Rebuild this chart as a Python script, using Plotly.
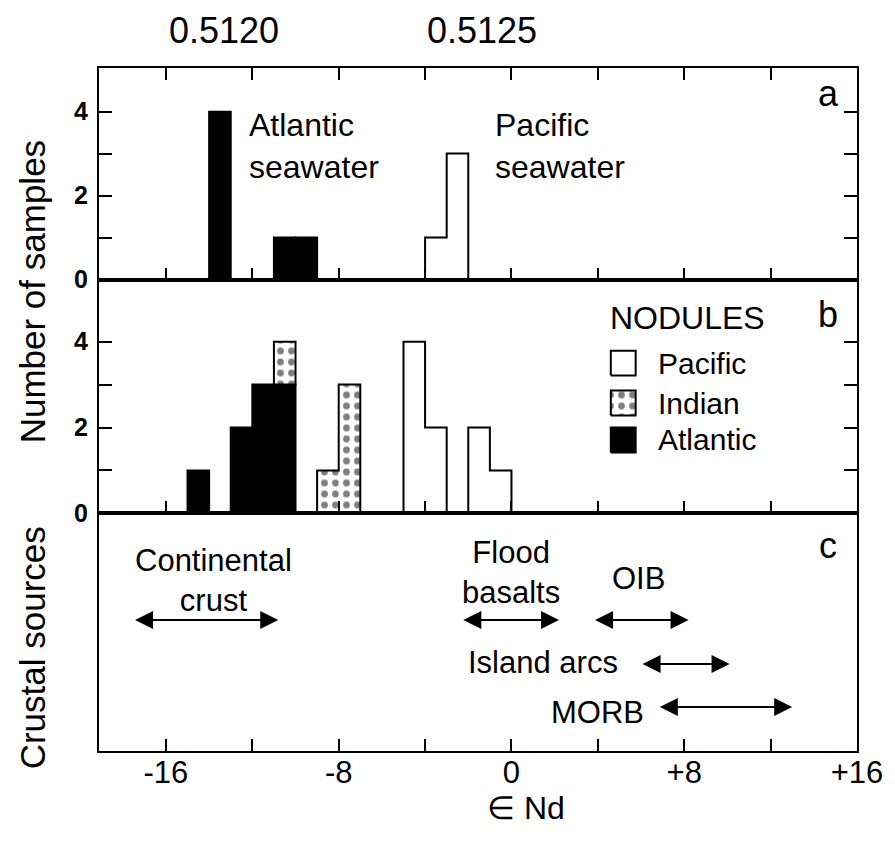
import plotly.graph_objects as go

# ---------------- data ----------------
bin_width = 1.0

# Panel a: seawater
sw_atl_left = [-14, -11, -10]
sw_atl_n = [4, 1, 1]
sw_pac_left = [-4, -3]
sw_pac_n = [1, 3]

# Panel b: nodules
nod_atl_left = [-15, -13, -12, -11]
nod_atl_n = [1, 2, 3, 3]
nod_ind_left = [-11, -9, -8]
nod_ind_n = [1, 1, 3]
nod_pac_left = [-5, -4, -2, -1]
nod_pac_n = [4, 2, 2, 1]

# Panel c: crustal sources (eNd ranges)
src_names = ["Continental<br>crust", "Flood<br>basalts", "OIB", "Island arcs", "MORB"]
src_lo = [-17.5, -2.3, 3.8, 6.0, 6.8]
src_hi = [-10.8, 2.2, 8.2, 10.1, 13.0]

# top ratio labels (143Nd/144Nd)
ratio_text = ["0.5120", "0.5125"]
ratio_eps = [-13.3, -1.35]

legend_names = ["Pacific", "Indian", "Atlantic"]

x_tickvals = [-16, -12, -8, -4, 0, 4, 8, 12, 16]
x_ticktext = ["-16", "", "-8", "", "0", "", "+8", "", "+16"]
y_tickvals = [0, 1, 2, 3, 4]
y_ticktext = ["0", "", "2", "", "4"]

# ---------------- layout constants ----------------
W, H = 895, 841
L, R, T, B = 99, 34, 68, 90
PW, PH = W - L - R, H - T - B
FONT = "Liberation Sans, Arial, sans-serif"

def pxx(px):
    return (px - L) / PW

def pxy(py):
    return (H - B - py) / PH

# panel boundaries (pixels from top)
ya_top, ab, bc, c_bot = 68, 279.5, 513.3, 751
dom_a = [pxy(ab), 1.0]
dom_b = [pxy(bc), pxy(ab)]
dom_c = [0.0, pxy(bc)]

XR = [-19.1, 16.0]
c_h = c_bot - bc  # panel c height in px, used as its y-scale

fig = go.Figure()


def bar_trace(lefts, counts, xa, ya, color, base=None, pattern=None, line=True):
    m = dict(color=color, line=dict(color="black", width=2 if line else 0))
    if pattern:
        m["pattern"] = pattern
    return go.Bar(
        x=[l + bin_width / 2 for l in lefts], y=counts, width=bin_width,
        base=base, marker=m, xaxis=xa, yaxis=ya, showlegend=False,
        hoverinfo="skip",
    )


def outline(lefts, counts, bases=None):
    """Step outline of contiguous histogram runs."""
    if bases is None:
        bases = [0] * len(lefts)
    xs, ys = [], []
    i = 0
    n = len(lefts)
    while i < n:
        run = [i]
        while run[-1] + 1 < n and abs(lefts[run[-1] + 1] - (lefts[run[-1]] + bin_width)) < 1e-9:
            run.append(run[-1] + 1)
        px_, py_ = [lefts[run[0]]], [bases[run[0]]]
        for k in run:
            px_ += [lefts[k], lefts[k] + bin_width]
            py_ += [bases[k] + counts[k], bases[k] + counts[k]]
        px_.append(lefts[run[-1]] + bin_width)
        py_.append(bases[run[-1]])
        for k in reversed(run):
            px_ += [lefts[k] + bin_width, lefts[k]]
            py_ += [bases[k], bases[k]]
        xs += px_ + [None]
        ys += py_ + [None]
        i = run[-1] + 1
    return xs, ys


dots = dict(shape=".", fgcolor="black", bgcolor="white", size=11, solidity=0.3)

# ---- panel a ----
fig.add_trace(bar_trace(sw_atl_left, sw_atl_n, "x", "y", "black"))
fig.add_trace(bar_trace(sw_pac_left, sw_pac_n, "x", "y", "white", line=False))
ox, oy = outline(sw_pac_left, sw_pac_n)
fig.add_trace(go.Scatter(x=ox, y=oy, mode="lines", line=dict(color="black", width=2),
                         xaxis="x", yaxis="y", showlegend=False, hoverinfo="skip"))

# ---- panel b ----
fig.add_trace(bar_trace(nod_atl_left, nod_atl_n, "x2", "y2", "black"))
atl_map = dict(zip(nod_atl_left, nod_atl_n))
ind_base = [atl_map.get(l, 0) for l in nod_ind_left]
fig.add_trace(bar_trace(nod_ind_left, nod_ind_n, "x2", "y2", "white", base=ind_base,
                        pattern=dots, line=False))
ox, oy = outline(nod_ind_left, nod_ind_n, ind_base)
fig.add_trace(go.Scatter(x=ox, y=oy, mode="lines", line=dict(color="black", width=2),
                         xaxis="x2", yaxis="y2", showlegend=False, hoverinfo="skip"))
fig.add_trace(bar_trace(nod_pac_left, nod_pac_n, "x2", "y2", "white", line=False))
ox, oy = outline(nod_pac_left, nod_pac_n)
fig.add_trace(go.Scatter(x=ox, y=oy, mode="lines", line=dict(color="black", width=2),
                         xaxis="x2", yaxis="y2", showlegend=False, hoverinfo="skip"))

# legend boxes (panel b coords)
lg_x0, lg_x1 = 4.6, 5.75
lg_yc = [3.50, 2.57, 1.71]
lg_half = 0.29
lg_fill = ["white", "white", "black"]
for name, yc, fc in zip(legend_names, lg_yc, lg_fill):
    kw = {}
    if name == "Indian":
        kw["fillpattern"] = dots
    fig.add_trace(go.Scatter(
        x=[lg_x0, lg_x1, lg_x1, lg_x0, lg_x0],
        y=[yc - lg_half, yc - lg_half, yc + lg_half, yc + lg_half, yc - lg_half],
        mode="lines", fill="toself", fillcolor=fc, line=dict(color="black", width=2),
        xaxis="x2", yaxis="y2", showlegend=False, hoverinfo="skip", **kw))

# ---- panel c: a dummy invisible trace to hold axes ----
fig.add_trace(go.Scatter(x=[XR[0]], y=[0], mode="markers", marker=dict(opacity=0),
                         xaxis="x3", yaxis="y3", showlegend=False, hoverinfo="skip"))

ann = []
arrow_row_y = [106.7, 106.7, 106.7, 150.7, 193.7]
for lo, hi, yy in zip(src_lo, src_hi, arrow_row_y):
    ann.append(dict(x=hi, y=yy, ax=lo, ay=yy, xref="x3", yref="y3", axref="x3", ayref="y3",
                    text="", showarrow=True, arrowhead=2, arrowside="end+start",
                    arrowsize=1.8, arrowwidth=2, arrowcolor="black",
                    standoff=0, startstandoff=0))

label_x = [-13.8, 0.0, 5.9, 1.46, 4.0]
label_y = [66.7, 59.0, 65.0, 149.0, 199.0]
for name, lx, ly in zip(src_names, label_x, label_y):
    ann.append(dict(x=lx, y=ly, xref="x3", yref="y3", text=name, showarrow=False,
                    font=dict(size=31, family=FONT, color="black"),
                    xanchor="center", yanchor="middle"))

# panel a texts
ann.append(dict(x=-12.25, y=3.17, xref="x", yref="y", text="Atlantic<br>seawater",
                showarrow=False, xanchor="left", yanchor="middle", align="left",
                font=dict(size=32, family=FONT, color="black")))
ann.append(dict(x=-0.84, y=3.17, xref="x", yref="y", text="Pacific<br>seawater",
                showarrow=False, xanchor="left", yanchor="middle", align="left",
                font=dict(size=32, family=FONT, color="black")))

# legend texts
ann.append(dict(x=4.46, y=4.55, xref="x2", yref="y2", text="NODULES", showarrow=False,
                xanchor="left", yanchor="middle", font=dict(size=32, family=FONT, color="black")))
for name, yc in zip(legend_names, lg_yc):
    ann.append(dict(x=6.68, y=yc, xref="x2", yref="y2", text=name, showarrow=False,
                    xanchor="left", yanchor="middle",
                    font=dict(size=30, family=FONT, color="black")))

# panel letters
for letter, py in zip(["a", "b", "c"], [93, 314, 545]):
    ann.append(dict(x=pxx(832), y=pxy(py), xref="paper", yref="paper", text=letter,
                    showarrow=False, xanchor="center", yanchor="middle",
                    font=dict(size=36, family=FONT, color="black")))

# top ratio labels
for t, e in zip(ratio_text, ratio_eps):
    ann.append(dict(x=e, y=pxy(31), xref="x", yref="paper", text=t, showarrow=False,
                    xanchor="center", yanchor="middle",
                    font=dict(size=36, family=FONT, color="black")))

# axis titles
ann.append(dict(x=pxx(32), y=pxy(292), xref="paper", yref="paper", text="Number of samples",
                textangle=-90, showarrow=False, xanchor="center", yanchor="middle",
                font=dict(size=35, family=FONT, color="black")))
ann.append(dict(x=pxx(32), y=pxy(648), xref="paper", yref="paper", text="Crustal sources",
                textangle=-90, showarrow=False, xanchor="center", yanchor="middle",
                font=dict(size=35, family=FONT, color="black")))
ann.append(dict(x=pxx(528), y=pxy(808), xref="paper", yref="paper", text="\u2208 Nd",
                showarrow=False, xanchor="center", yanchor="middle",
                font=dict(size=32, family=FONT, color="black")))

common_x = dict(range=XR, showline=True, linecolor="black", linewidth=2,
                ticks="inside", ticklen=12, tickwidth=2, tickcolor="black",
                tickvals=x_tickvals, ticktext=x_ticktext, showgrid=False, zeroline=False,
                fixedrange=True)
common_y = dict(showline=True, linecolor="black", linewidth=2, mirror="ticks",
                ticks="inside", ticklen=13, tickwidth=2, tickcolor="black",
                tickvals=y_tickvals, ticktext=y_ticktext, showgrid=False, zeroline=False,
                tickfont=dict(size=25, family=FONT, color="black", weight="bold"),
                ticklabelstandoff=4, fixedrange=True)

fig.update_layout(
    width=W, height=H,
    margin=dict(l=L, r=R, t=T, b=B, pad=0),
    paper_bgcolor="white", plot_bgcolor="white",
    barmode="overlay", showlegend=False,
    font=dict(family=FONT, color="black"),
    xaxis=dict(**common_x, domain=[0, 1], anchor="y", mirror="ticks", showticklabels=False),
    yaxis=dict(**common_y, domain=dom_a, anchor="x", range=[0, 5.04]),
    xaxis2=dict(**common_x, domain=[0, 1], anchor="y2", mirror=True, showticklabels=False),
    yaxis2=dict(**common_y, domain=dom_b, anchor="x2", range=[0, 5.45]),
    xaxis3=dict(**common_x, domain=[0, 1], anchor="y3", mirror=True, showticklabels=True,
                tickfont=dict(size=31, family=FONT, color="black"), ticklabelstandoff=-7),
    yaxis3=dict(domain=dom_c, anchor="x3", range=[c_h, 0], showline=True, linecolor="black",
                linewidth=2, mirror=True, ticks="", showticklabels=False, showgrid=False,
                zeroline=False, fixedrange=True),
    annotations=ann,
)

fig.write_html("out.html")
